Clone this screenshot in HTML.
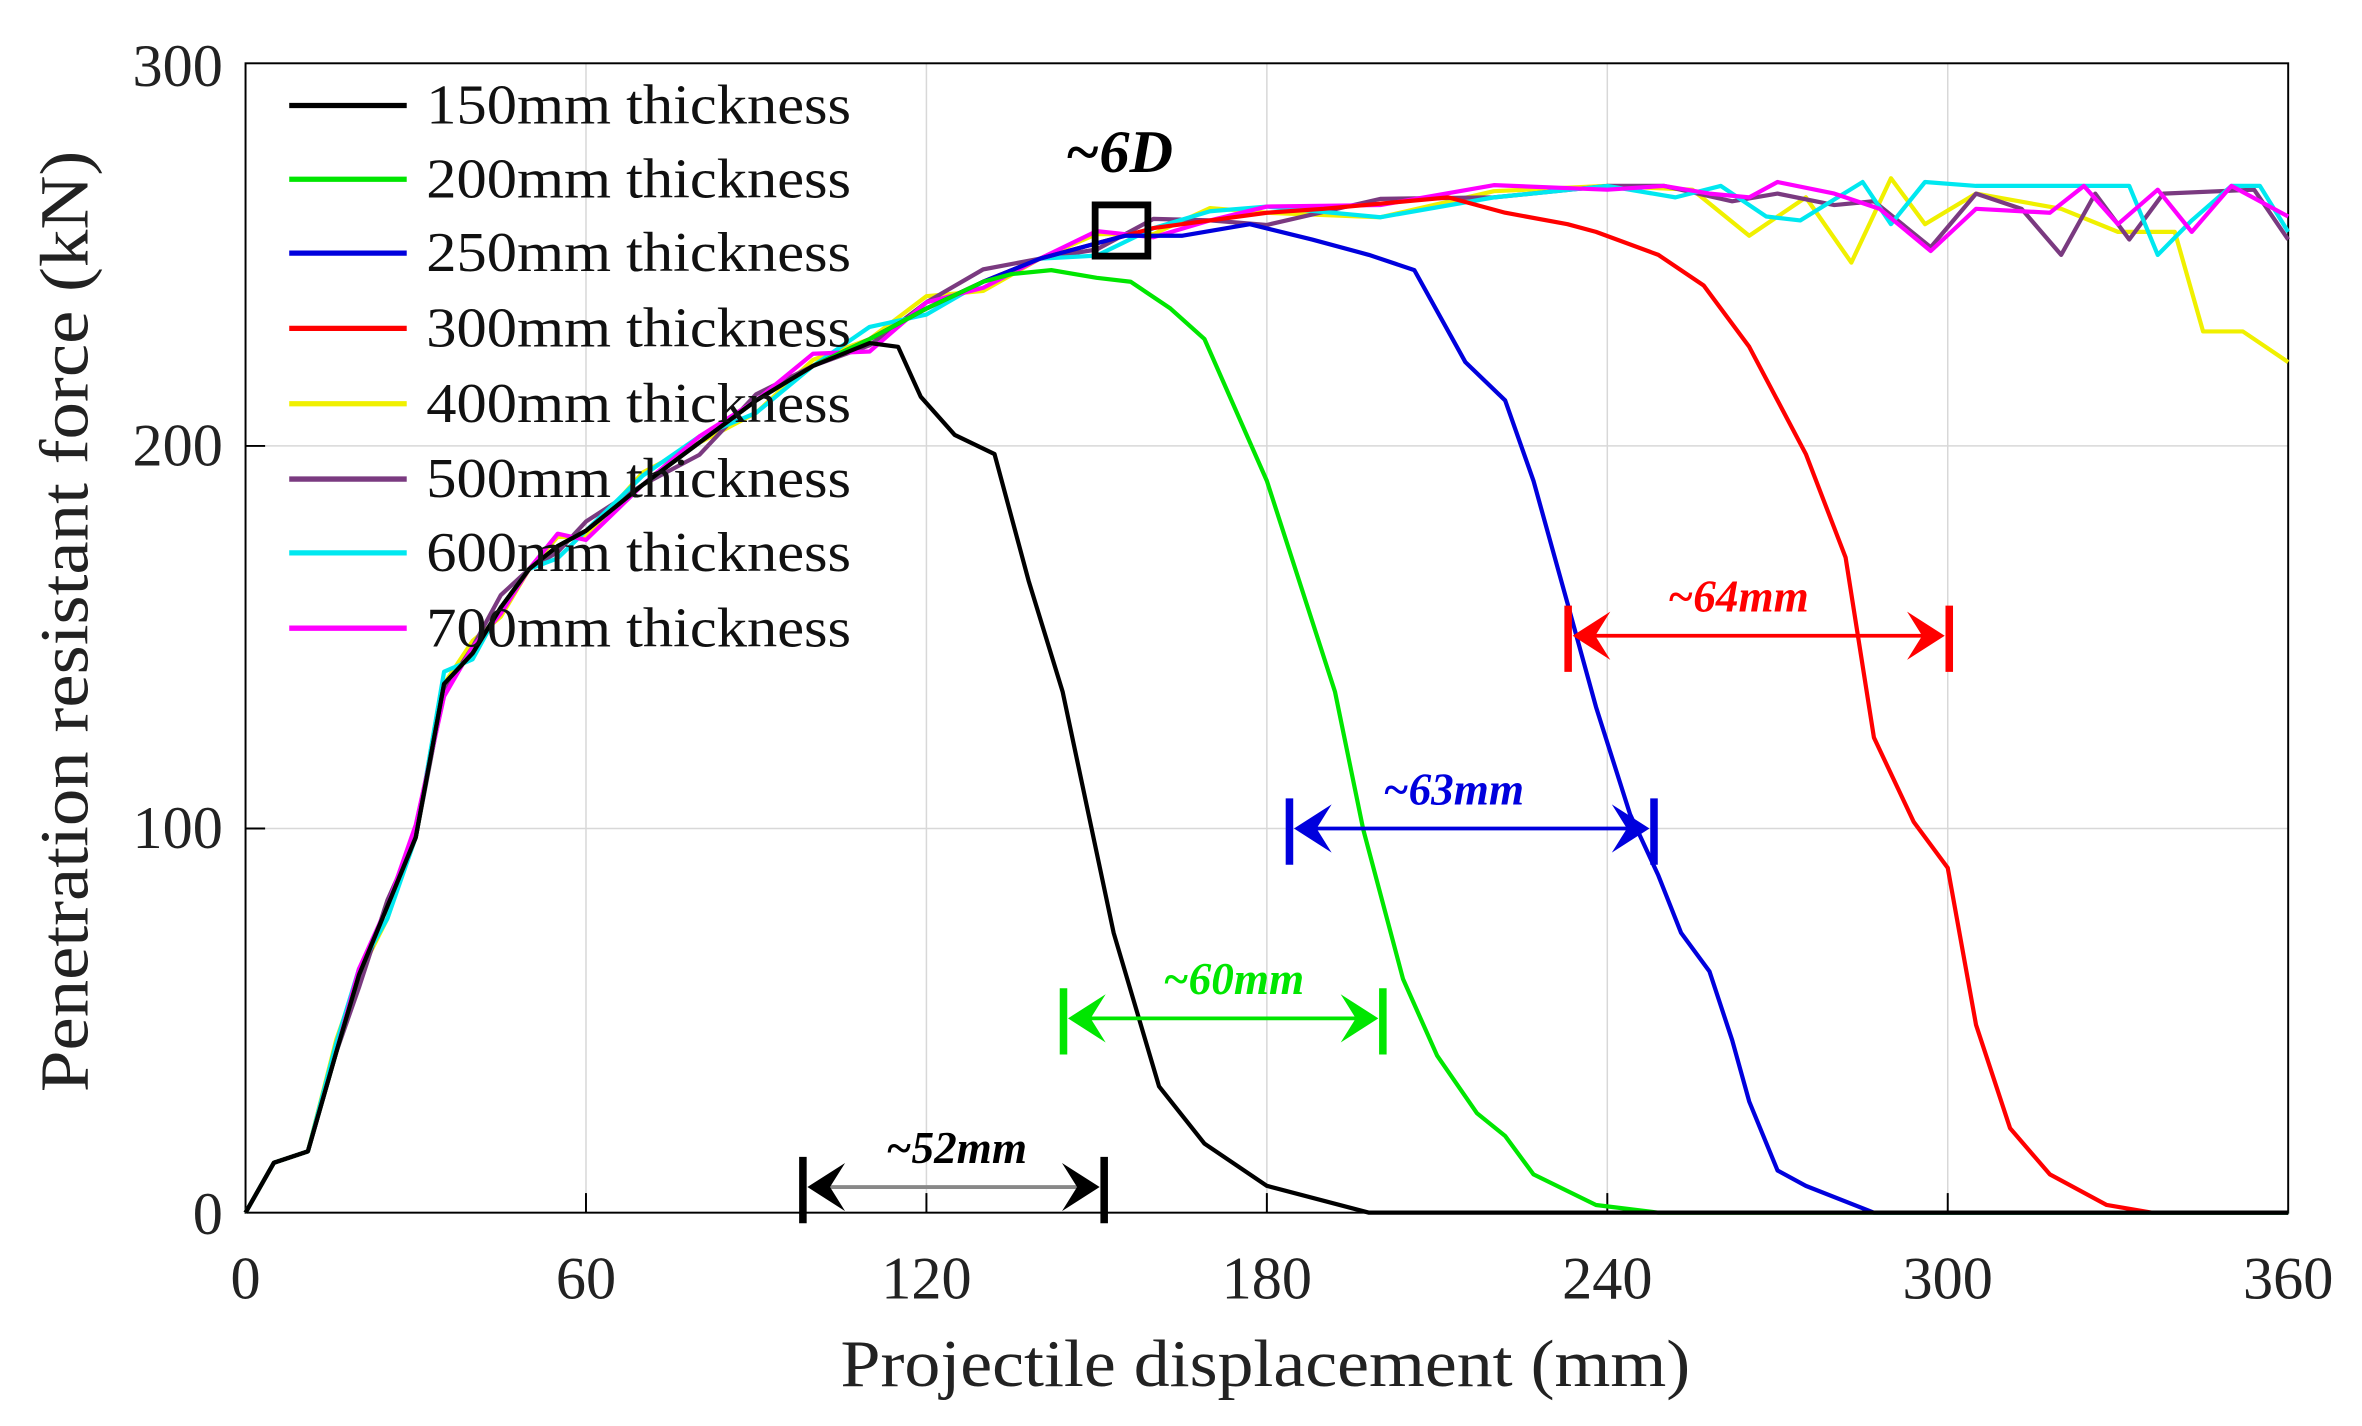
<!DOCTYPE html>
<html><head><meta charset="utf-8"><style>
html,body{margin:0;padding:0;background:#fff;}
svg{display:block}
text{font-family:"Liberation Serif",serif;}
</style></head><body>
<svg id="s" width="2362" height="1426" viewBox="0 0 1568 946.6" xmlns="http://www.w3.org/2000/svg">
<rect width="1568" height="946.6" fill="#fff"/>
<g stroke="#d8d8d8" stroke-width="1">
<line x1="389" y1="42" x2="389" y2="805"/><line x1="615" y1="42" x2="615" y2="805"/>
<line x1="841" y1="42" x2="841" y2="805"/><line x1="1067" y1="42" x2="1067" y2="805"/>
<line x1="1293" y1="42" x2="1293" y2="805"/>
<line x1="163" y1="550" x2="1519" y2="550"/><line x1="163" y1="296" x2="1519" y2="296"/>
</g>
<rect x="163" y="42" width="1356" height="763" fill="none" stroke="#000" stroke-width="1.3"/>
<g stroke="#000" stroke-width="1.3">
<line x1="163" y1="550" x2="176" y2="550"/><line x1="163" y1="296" x2="176" y2="296"/>
<line x1="389" y1="805" x2="389" y2="792"/><line x1="615" y1="805" x2="615" y2="792"/>
<line x1="841" y1="805" x2="841" y2="792"/><line x1="1067" y1="805" x2="1067" y2="792"/>
<line x1="1293" y1="805" x2="1293" y2="792"/>
</g>
<g id="curves" fill="none" stroke-width="2.8" stroke-linejoin="round"></g>
<g font-size="40" fill="#222">
<text x="148" y="57" text-anchor="end">300</text>
<text x="148" y="309" text-anchor="end">200</text>
<text x="148" y="563" text-anchor="end">100</text>
<text x="148" y="819" text-anchor="end">0</text>
<g text-anchor="middle">
<text x="163" y="862">0</text><text x="389" y="862">60</text><text x="615" y="862">120</text>
<text x="841" y="862">180</text><text x="1067" y="862">240</text><text x="1293" y="862">300</text><text x="1519" y="862">360</text>
</g>
<text x="558" y="920" font-size="44" textLength="564" lengthAdjust="spacingAndGlyphs">Projectile displacement (mm)</text>
<text transform="translate(58,725) rotate(-90)" font-size="46" textLength="625" lengthAdjust="spacingAndGlyphs">Penetration resistant force (kN)</text>
</g>
<g id="legend" font-size="37" fill="#111"></g>
<text x="707" y="114" font-size="40" font-weight="bold" font-style="italic">~6D</text>
<rect x="727" y="136" width="35" height="34" fill="none" stroke="#000" stroke-width="4.5"/>
<g id="ann"></g>
</svg>
<script>
var X=function(v){return 163+v*1356/360},Y=function(v){return 805-v*763/300};
var base=[[0,0],[5,13],[11,16],[16,42],[20,62],[25,80],[30,98],[35,138],[40,146],[45,158],[50,168],[55,174],[60,178],[70,190],[80,201],[90,212],[100,221],[110,228],[120,236],[130,243],[140,249],[150,253],[160,257],[170,259],[180,261],[200,263],[220,265],[240,267],[260,268]];
function mk(pre,tail){return base.filter(function(p){return p[0]<pre}).concat(tail)}
var tails={
k:[[110,227],[115,226],[119,213],[125,203],[132,198],[138,165],[144,136],[153,73],[161,33],[169,18],[180,7],[198,0],[360,0]],
g:[[135,245],[142,246],[150,244],[156,243],[163,236],[169,228],[180,191],[192,136],[197,100],[204,61],[210,41],[217,26],[222,20],[227,10],[238,2],[249,0],[360,0]],
b:[[155,255],[165,255],[177,258],[188,254],[198,250],[206,246],[215,222],[222,212],[227,191],[233,159],[238,132],[244,104],[249,88],[253,73],[258,63],[262,45],[265,29],[270,11],[275,7],[287,0],[360,0]],
r:[[190,262],[212,265],[222,261],[233,258],[238,256],[249,250],[257,242],[265,226],[275,198],[282,171],[287,124],[294,102],[300,90],[305,49],[311,22],[318,10],[328,2],[336,0],[360,0]]};
var ptails={
y:[[240,268],[255,267],[265,255],[275,265],[283,248],[290,270],[296,258],[305,266],[320,262],[330,256],[340,256],[345,230],[352,230],[360,222]],
p:[[240,268],[250,268],[262,264],[270,266],[280,263],[287,264],[297,252],[305,266],[313,262],[320,250],[326,266],[332,254],[338,266],[354,267],[360,254]],
c:[[240,268],[252,265],[260,268],[268,260],[274,259],[285,269],[290,258],[296,269],[305,268],[320,268],[332,268],[337,250],[343,259],[350,268],[355,268],[360,256]],
m:[[240,267],[250,268],[258,266],[265,265],[270,269],[280,266],[288,262],[297,251],[305,262],[318,261],[324,268],[330,258],[337,267],[343,256],[350,268],[360,260]]};
var cols={k:"#000",g:"#00e600",b:"#0000dd",r:"#ff0000",y:"#f0f000",p:"#7a3a80",c:"#00e8f0",m:"#ff00ff"};
var jit={y:[0,1.5,-1,2,0,-2,1,0,2,-1.5],p:[0,-1,1.5,0,-2,1,0,-1,1,2],c:[0,-2,0,1.5,1,-2,0,2,-1,0],m:[0,2,-1.5,0,1,0,2,-2,1,-1]};
var data={};
data.k=mk(110,tails.k);data.g=mk(135,tails.g);data.b=mk(155,tails.b);data.r=mk(190,tails.r);
["y","p","c","m"].forEach(function(k){var d=base.filter(function(p){return p[0]<240}).map(function(p,i){return p[0]<15?p:[p[0],p[1]+jit[k][i%10]*1.6]});data[k]=d.concat(ptails[k]);});
var NS="http://www.w3.org/2000/svg";
function el(parent,tag,attrs,txt){var e=document.createElementNS(NS,tag);for(var a in attrs)e.setAttribute(a,attrs[a]);if(txt!==undefined)e.textContent=txt;parent.appendChild(e);return e;}
var g=document.getElementById("curves");
["y","p","c","m","r","b","g","k"].forEach(function(k){el(g,"polyline",{stroke:cols[k],points:data[k].map(function(p){return X(p[0]).toFixed(1)+","+Y(p[1]).toFixed(1)}).join(" ")});});
var L=["150mm","200mm","250mm","300mm","400mm","500mm","600mm","700mm"],lk=["k","g","b","r","y","p","c","m"],ly=[70,119,168,218,268,318,367,417];
var lg=document.getElementById("legend");
for(var i=0;i<8;i++){el(lg,"line",{x1:192,y1:ly[i],x2:270,y2:ly[i],stroke:cols[lk[i]],"stroke-width":3.5});el(lg,"text",{x:283,y:ly[i]+12,textLength:282,lengthAdjust:"spacingAndGlyphs"},L[i]+" thickness");}
var an=document.getElementById("ann");
function ann(x1,x2,y,c,lc,lab,lx){
el(an,"line",{x1:x1,y1:y-20,x2:x1,y2:y+24,stroke:c,"stroke-width":5});
el(an,"line",{x1:x2,y1:y-20,x2:x2,y2:y+24,stroke:c,"stroke-width":5});
el(an,"line",{x1:x1+15,y1:y,x2:x2-15,y2:y,stroke:lc,"stroke-width":2.5});
el(an,"polygon",{fill:c,points:(x1+3)+","+y+" "+(x1+28)+","+(y-16)+" "+(x1+18)+","+y+" "+(x1+28)+","+(y+16)});
el(an,"polygon",{fill:c,points:(x2-3)+","+y+" "+(x2-28)+","+(y-16)+" "+(x2-18)+","+y+" "+(x2-28)+","+(y+16)});
el(an,"text",{x:lx,y:y-16,fill:c,"font-size":30,"font-weight":"bold","font-style":"italic"},lab);}
ann(533,733,788,"#000","#888","~52mm",588);ann(706,918,676,"#00e600","#00e600","~60mm",772);ann(856,1098,550,"#0000dd","#0000dd","~63mm",918);ann(1041,1294,422,"#ff0000","#ff0000","~64mm",1107);
</script>
</body></html>
